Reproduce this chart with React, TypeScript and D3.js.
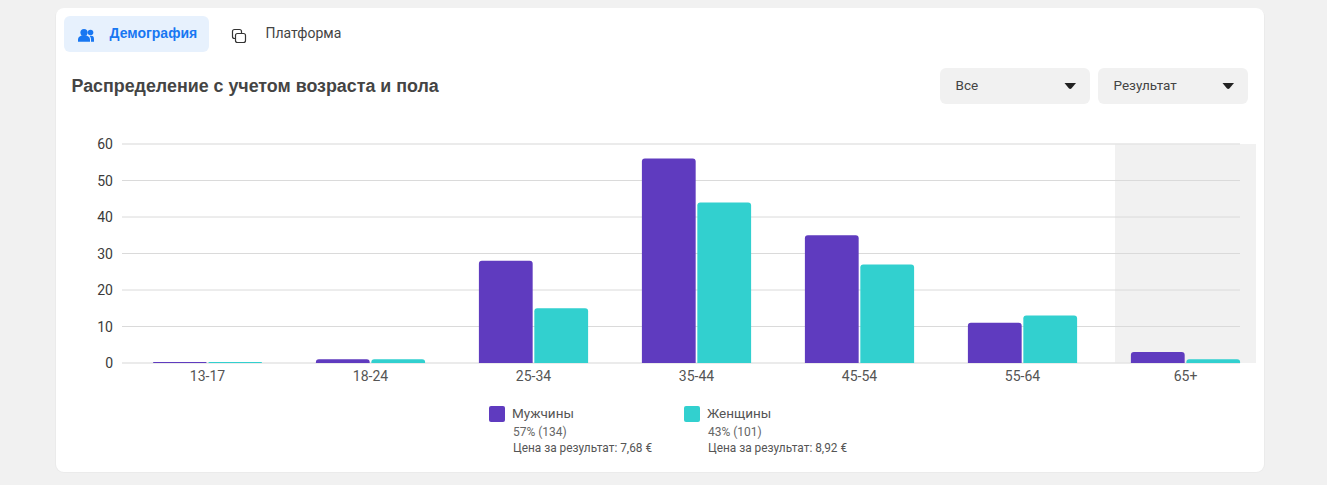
import React, { useEffect, useRef } from 'react';
import * as d3 from 'd3';

const ageGroups = ['13-17', '18-24', '25-34', '35-44', '45-54', '55-64', '65+'];
const menValues = [0.3, 1, 28, 56, 35, 11, 3];
const womenValues = [0.3, 1, 15, 44, 27, 13, 1];
const yTicks = [0, 10, 20, 30, 40, 50, 60];
const seriesNames = ['Мужчины', 'Женщины'];
const seriesShares = ['57% (134)', '43% (101)'];
const seriesCosts = ['Цена за результат: 7,68 €', 'Цена за результат: 8,92 €'];
const seriesColors = ['#5f3bbf', '#32d0cf'];
const dropdowns = ['Все', 'Результат'];

const roboto = 'Roboto, sans-serif';
const arial = '"Liberation Sans", Arial, sans-serif';

const App: React.FC = () => {
  const svgRef = useRef<SVGSVGElement>(null);

  useEffect(() => {
    if (!svgRef.current) return;
    const svg = d3.select(svgRef.current);
    svg.selectAll('*').remove();

    // Page and card
    svg.append('rect').attr('width', 1327).attr('height', 485).attr('fill', '#f1f1f1');
    svg.append('rect').attr('x', 55).attr('y', 8).attr('width', 1210).attr('height', 465).attr('rx', 9).attr('fill', '#ebebeb');
    svg.append('rect').attr('x', 56).attr('y', 8).attr('width', 1208).attr('height', 464).attr('rx', 8).attr('fill', '#fff');

    // Tabs
    svg.append('rect').attr('x', 64).attr('y', 16).attr('width', 145).attr('height', 36).attr('rx', 6).attr('fill', '#e7f1fd');
    const people = svg.append('g').attr('fill', '#1877f2');
    people.append('circle').attr('cx', 84).attr('cy', 32.5).attr('r', 3.6);
    people.append('circle').attr('cx', 90.5).attr('cy', 32.5).attr('r', 2.8);
    people.append('path').attr('d', 'M78 41.7v-2c0-2.7 2.5-4.4 6-4.4s6 1.7 6 4.4v2z');
    people.append('path').attr('d', 'M91 41.7v-2.2c0-1.5-.5-2.6-1.4-3.5 .5-.1 1-.2 1.6-.2 2.4 0 2.8 1.4 2.8 3.6v2.3z');
    svg.append('text').attr('x', 109.5).attr('y', 37.5).attr('font-family', arial).attr('font-weight', 700).attr('font-size', 14).attr('fill', '#1877f2').text('Демография');

    const squares = svg.append('g').attr('fill', 'none').attr('stroke', '#333').attr('stroke-width', 1.2);
    squares.append('rect').attr('x', 232.5).attr('y', 29.5).attr('width', 9).attr('height', 9).attr('rx', 2);
    squares.append('rect').attr('x', 235.5).attr('y', 33.5).attr('width', 10).attr('height', 9).attr('rx', 2).attr('fill', '#fff');
    svg.append('text').attr('x', 265.5).attr('y', 38).attr('font-family', roboto).attr('font-size', 14).attr('fill', '#444').text('Платформа');

    // Title
    svg.append('text').attr('x', 71.5).attr('y', 92).attr('font-family', arial).attr('font-weight', 700).attr('font-size', 17.85).attr('fill', '#444').text('Распределение с учетом возраста и пола');

    // Dropdowns
    dropdowns.forEach((label, i) => {
      const x = 940 + i * 158;
      svg.append('rect').attr('x', x).attr('y', 68).attr('width', 150).attr('height', 36).attr('rx', 6).attr('fill', '#f1f1f1');
      svg.append('text').attr('x', x + 15.5).attr('y', 90).attr('font-family', roboto).attr('font-size', 13.5).attr('fill', '#444').text(label);
      svg.append('path').attr('d', `M${x + 124.5} 83h11.5l-4.4 5.2q-1.4 1.4-2.8 0z`).attr('fill', '#222');
    });

    // Scales
    const x0 = d3.scaleBand<string>().domain(ageGroups).range([126, 1267]).paddingInner(0.33).paddingOuter(0.165);
    const x1 = d3.scaleBand<string>().domain(seriesNames).range([0, x0.bandwidth()]).paddingInner(0.03);
    const y = d3.scaleLinear().domain([0, 60]).range([363, 144]);

    // Highlight of the last group
    const lastCenter = (x0('65+') as number) + x0.bandwidth() / 2;
    svg.append('rect').attr('x', lastCenter - 70.5).attr('y', y(60)).attr('width', 141).attr('height', y(0) - y(60)).attr('fill', '#f1f1f1');

    // Grid
    svg.append('g').selectAll('line').data(yTicks).enter().append('line')
      .attr('x1', 122).attr('x2', 1240)
      .attr('y1', (d) => y(d)).attr('y2', (d) => y(d))
      .attr('stroke', (d) => (d === 0 || d === 60 ? '#e4e4e4' : '#dadada'))
      .attr('stroke-width', (d) => (d === 0 || d === 60 ? 1.5 : 1));

    // Bars
    [menValues, womenValues].forEach((values, s) => {
      svg.append('g').selectAll('path').data(values).enter().append('path')
        .attr('fill', seriesColors[s])
        .attr('d', (d, i) => {
          const left = (x0(ageGroups[i]) as number) + (x1(seriesNames[s]) as number);
          const w = x1.bandwidth();
          const top = y(d);
          const r = Math.min(3, y(0) - top);
          return `M${left} ${y(0)}V${top + r}Q${left} ${top} ${left + r} ${top}H${left + w - r}Q${left + w} ${top} ${left + w} ${top + r}V${y(0)}Z`;
        });
    });

    // Axis labels
    svg.append('g').selectAll('text').data(yTicks).enter().append('text')
      .attr('x', 113).attr('y', (d) => y(d) + 5).attr('text-anchor', 'end')
      .attr('font-family', roboto).attr('font-size', 14).attr('fill', '#3a3a3a').text((d) => d);
    svg.append('g').selectAll('text').data(ageGroups).enter().append('text')
      .attr('x', (d) => (x0(d) as number) + x0.bandwidth() / 2).attr('y', 381).attr('text-anchor', 'middle')
      .attr('font-family', roboto).attr('font-size', 14).attr('fill', '#555').text((d) => d);

    // Legend
    seriesNames.forEach((name, i) => {
      const lx = 489 + i * 195;
      svg.append('rect').attr('x', lx).attr('y', 406).attr('width', 16).attr('height', 16).attr('rx', 2).attr('fill', seriesColors[i]);
      svg.append('text').attr('x', lx + 23).attr('y', 418).attr('font-family', roboto).attr('font-size', 13.5).attr('fill', '#555').text(name);
      svg.append('text').attr('x', lx + 24).attr('y', 436).attr('font-family', roboto).attr('font-size', 12).attr('fill', '#666').text(seriesShares[i]);
      svg.append('text').attr('x', lx + 24).attr('y', 452).attr('font-family', roboto).attr('font-size', 11.85).attr('fill', '#555').text(seriesCosts[i]);
    });
  }, []);

  return <svg ref={svgRef} width={1327} height={485} style={{ position: 'absolute', left: 0, top: 0, display: 'block' }} />;
};

export default App;
